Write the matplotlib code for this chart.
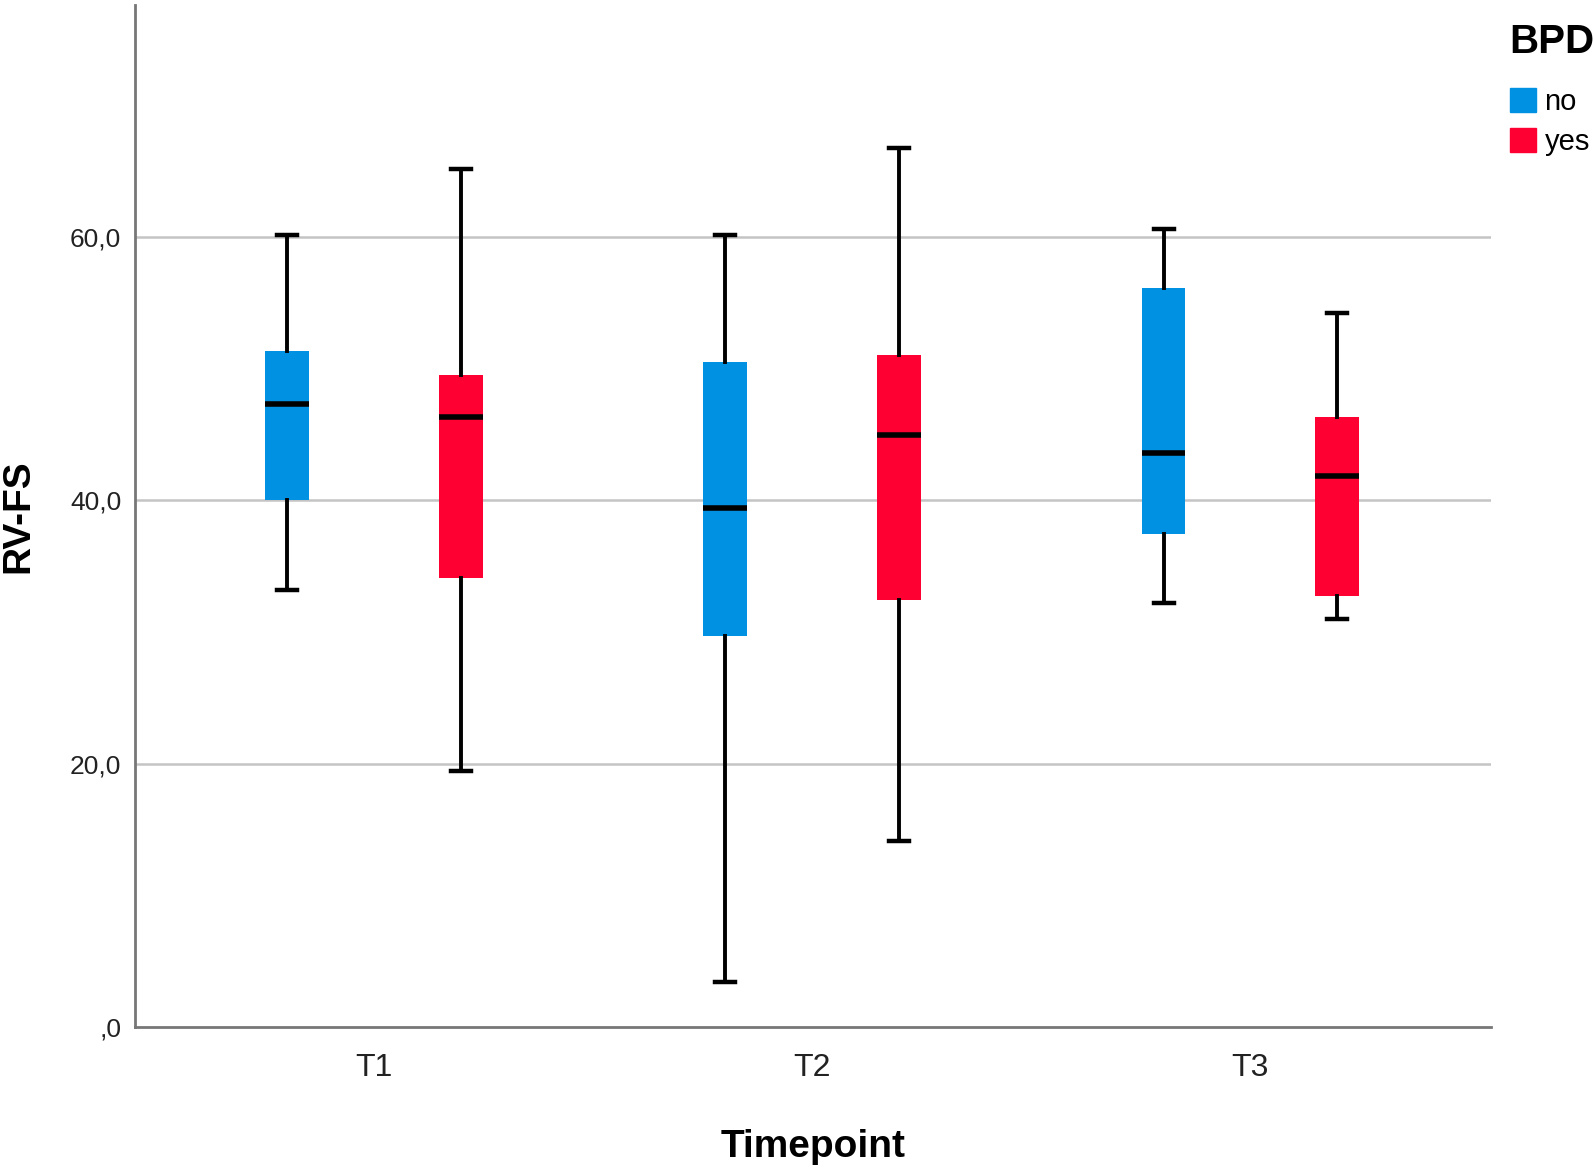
import matplotlib
matplotlib.use("Agg")
import matplotlib.pyplot as plt
from matplotlib.patches import Patch
import numpy as np

plt.rcParams['font.family'] = ['Liberation Sans', 'DejaVu Sans']

# valores (RV-FS por momento y grupo BPD)
timepoints = ['T1', 'T2', 'T3']
grupos = ['no', 'yes']
colores = {'no': '#0091E3', 'yes': '#FF0033'}

no_whislo = [33.2, 3.4, 32.2]
no_q1 = [40.0, 29.7, 37.4]
no_med = [47.3, 39.4, 43.6]
no_q3 = [51.3, 50.5, 56.1]
no_whishi = [60.15, 60.1, 60.6]

yes_whislo = [19.4, 14.1, 31.0]
yes_q1 = [34.1, 32.4, 32.7]
yes_med = [46.3, 44.9, 41.8]
yes_q3 = [49.5, 51.0, 46.3]
yes_whishi = [65.1, 66.7, 54.2]

def stats(lo, q1, med, q3, hi):
    return [dict(whislo=a, q1=b, med=c, q3=d, whishi=e, fliers=[])
            for a, b, c, d, e in zip(lo, q1, med, q3, hi)]

datos = {
    'no': stats(no_whislo, no_q1, no_med, no_q3, no_whishi),
    'yes': stats(yes_whislo, yes_q1, yes_med, yes_q3, yes_whishi),
}

fig = plt.figure(figsize=(15.94, 11.68), dpi=100)
ax = fig.add_axes([0.0848, 0.1207, 0.8508, 0.8753])

x = np.arange(len(timepoints))
desplaz = {'no': -0.198, 'yes': 0.198}
for g in grupos:
    ax.bxp(datos[g], positions=x + desplaz[g], widths=0.1, patch_artist=True,
           showfliers=False,
           boxprops=dict(facecolor=colores[g], edgecolor=colores[g], linewidth=0),
           medianprops=dict(color='black', linewidth=4, solid_capstyle='butt'),
           whiskerprops=dict(color='black', linewidth=2.8),
           capprops=dict(color='black', linewidth=3.2),
           capwidths=0.046, zorder=3)

ax.set_xlim(-0.545, 2.55)
ax.set_ylim(0, 77.6)
ax.set_xticks(x)
ax.set_xticklabels(timepoints, fontsize=23, color='#222222')
ax.set_yticks([0, 20, 40, 60])
ax.set_yticklabels([',0', '20,0', '40,0', '60,0'], fontsize=19, color='#222222')
ax.tick_params(axis='both', length=0)
ax.tick_params(axis='y', pad=10)
ax.tick_params(axis='x', pad=19)

for yv in [20, 40, 60]:
    ax.axhline(yv, color='#c4c4c4', linewidth=1.8, zorder=1)

for s in ['top', 'right']:
    ax.spines[s].set_visible(False)
for s in ['left', 'bottom']:
    ax.spines[s].set_color('#777777')
    ax.spines[s].set_linewidth(2)

ax.set_xlabel('Timepoint', fontsize=28, fontweight='bold', labelpad=33)
ax.set_ylabel('RV-FS', fontsize=28, fontweight='bold', labelpad=24)

# leyenda: titulo aparte para separarlo mas de las entradas
fig.text(0.947, 0.964, 'BPD', fontsize=29, fontweight='bold', ha='left', va='center')
handles = [Patch(facecolor=colores[g], edgecolor=colores[g], label=g) for g in grupos]
fig.legend(handles=handles, loc='upper left',
           bbox_to_anchor=(0.947, 0.925), frameon=False, fontsize=21,
           handlelength=0.9, handleheight=0.9, handletextpad=0.3,
           labelspacing=0.42, borderaxespad=0, borderpad=0)

fig.savefig('out.png', dpi=100)
